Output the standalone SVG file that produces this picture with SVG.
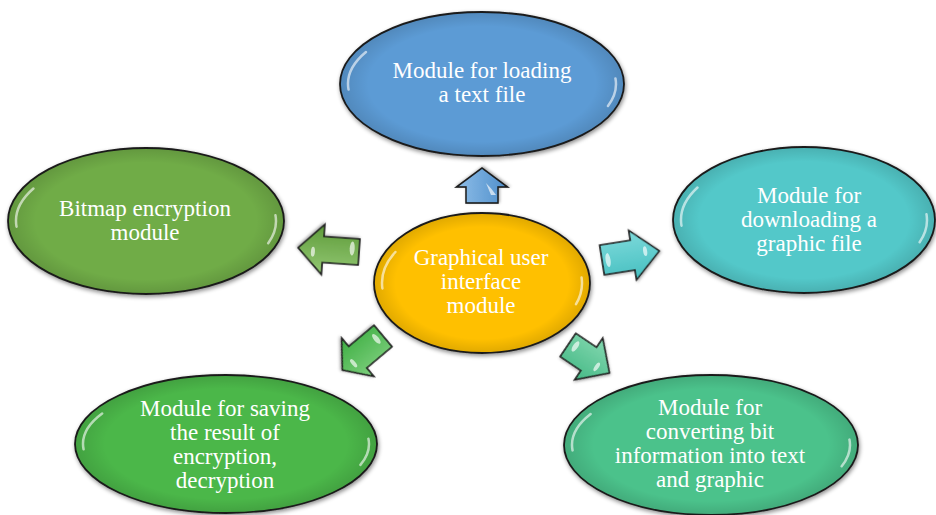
<svg xmlns="http://www.w3.org/2000/svg" xmlns:xlink="http://www.w3.org/1999/xlink" width="936" height="515" viewBox="0 0 936 515">
<defs>
<style>
.node{stroke:#1c1c1c;stroke-width:1.8;filter:url(#sh)}
.shade{fill:url(#edge);stroke:none}
.hl{fill:none;stroke:#ffffff;stroke-width:2.5;stroke-linecap:round;opacity:0.6}
.lbl{font-family:"Liberation Serif","Times New Roman",serif;font-size:23px;fill:#ffffff;text-anchor:middle}
.arr{stroke:#1c1c1c;stroke-width:1.6;stroke-linejoin:miter;filter:url(#sh2)}
.spot{fill:#ffffff;opacity:0.65}
</style>
<filter id="sh" x="-10%" y="-10%" width="120%" height="125%">
<feGaussianBlur in="SourceAlpha" stdDeviation="2.2"/>
<feOffset dx="1" dy="1.5" result="b"/>
<feFlood flood-color="#000" flood-opacity="0.45"/>
<feComposite in2="b" operator="in"/>
<feMerge><feMergeNode/><feMergeNode in="SourceGraphic"/></feMerge>
</filter>
<filter id="sh2" x="-20%" y="-20%" width="140%" height="140%">
<feGaussianBlur in="SourceAlpha" stdDeviation="1.5"/>
<feOffset dx="1" dy="1" result="b"/>
<feFlood flood-color="#000" flood-opacity="0.35"/>
<feComposite in2="b" operator="in"/>
<feMerge><feMergeNode/><feMergeNode in="SourceGraphic"/></feMerge>
</filter>
<radialGradient id="edge" cx="0.5" cy="0.5" r="0.5">
<stop offset="0.8" stop-color="#000" stop-opacity="0"/>
<stop offset="1" stop-color="#000" stop-opacity="0.12"/>
</radialGradient>
<linearGradient id="gUp" x1="0" y1="0" x2="0" y2="1"><stop offset="0" stop-color="#8DBDE8"/><stop offset="1" stop-color="#4F8FCB"/></linearGradient>
<linearGradient id="gL" x1="0" y1="0" x2="0" y2="1"><stop offset="0" stop-color="#93C873"/><stop offset="1" stop-color="#5E9B3A"/></linearGradient>
<linearGradient id="gR" x1="0" y1="0" x2="0" y2="1"><stop offset="0" stop-color="#7EDADB"/><stop offset="1" stop-color="#45BFC0"/></linearGradient>
<linearGradient id="gBL" x1="0" y1="0" x2="0" y2="1"><stop offset="0" stop-color="#7FD07F"/><stop offset="1" stop-color="#3DAE42"/></linearGradient>
<linearGradient id="gBR" x1="0" y1="0" x2="0" y2="1"><stop offset="0" stop-color="#84D8B0"/><stop offset="1" stop-color="#45B986"/></linearGradient>
<path id="hl" class="hl" vector-effect="non-scaling-stroke" d="M-0.866,-0.5 A1,1 0 0 0 -0.996,0.087 M0.996,-0.087 A1,1 0 0 1 0.94,0.342"/>
</defs>
<rect width="936" height="515" fill="#ffffff"/>

<g id="connectors">
<g id="arrow-up" transform="translate(482,203) rotate(-90)">
<path class="arr" fill="url(#gUp)" d="M0,-16 L16,-16 L16,-25.5 L35,0 L16,25.5 L16,16 L0,16 Z"/>
<path class="spot" d="M20,4 L8,9 L8,14 Q14,10 20,4 Z"/>
</g>
<g id="arrow-left" transform="translate(359,252) rotate(184)">
<path class="arr" fill="url(#gL)" d="M0,-13 L36,-13 L36,-25 L61,0 L36,25 L36,13 L0,13 Z"/>
<ellipse class="spot" cx="7" cy="3" rx="2.5" ry="7"/>
<ellipse class="spot" cx="46" cy="-3" rx="2" ry="5"/>
</g>
<g id="arrow-right" transform="translate(602,260) rotate(-9)">
<path class="arr" fill="url(#gR)" d="M0,-15 L31,-15 L31,-25 L58,0 L31,25 L31,15 L0,15 Z"/>
<ellipse class="spot" cx="6" cy="1" rx="2.5" ry="7"/>
<ellipse class="spot" cx="44" cy="-2" rx="2" ry="5"/>
</g>
<g id="arrow-bottom-left" transform="translate(383,336) rotate(140)">
<path class="arr" fill="url(#gBL)" d="M0,-14 L33,-14 L33,-25 L53,0 L33,25 L33,14 L0,14 Z"/>
<ellipse class="spot" cx="7" cy="2" rx="2.5" ry="6"/>
<ellipse class="spot" cx="40" cy="-2" rx="2" ry="5"/>
</g>
<g id="arrow-bottom-right" transform="translate(568,345) rotate(34)">
<path class="arr" fill="url(#gBR)" d="M0,-14 L25,-14 L25,-25 L50,0 L25,25 L25,14 L0,14 Z"/>
<ellipse class="spot" cx="7" cy="-3" rx="2.5" ry="6"/>
<ellipse class="spot" cx="36" cy="2" rx="2" ry="5"/>
</g>
</g>

<g id="node-top">
<ellipse class="node" cx="482" cy="84" rx="142" ry="72" fill="#5B9BD5"/>
<ellipse class="shade" cx="482" cy="84" rx="142" ry="72"/>
<use href="#hl" transform="translate(482,84) scale(134,64)"/>
<text class="lbl" x="482" y="78">Module for loading</text>
<text class="lbl" x="482" y="102">a text file</text>
</g>

<g id="node-right">
<ellipse class="node" cx="804" cy="220" rx="131" ry="73" fill="#52C8C9"/>
<ellipse class="shade" cx="804" cy="220" rx="131" ry="73"/>
<use href="#hl" transform="translate(804,220) scale(123,65)"/>
<text class="lbl" x="809" y="203">Module for</text>
<text class="lbl" x="809" y="227">downloading a</text>
<text class="lbl" x="809" y="251">graphic file</text>
</g>

<g id="node-left">
<ellipse class="node" cx="146" cy="221" rx="138" ry="73" fill="#6FAC46"/>
<ellipse class="shade" cx="146" cy="221" rx="138" ry="73"/>
<use href="#hl" transform="translate(146,221) scale(130,65)"/>
<text class="lbl" x="145" y="216">Bitmap encryption</text>
<text class="lbl" x="145" y="240">module</text>
</g>

<g id="node-center">
<ellipse class="node" cx="482" cy="283" rx="108" ry="70" fill="#FFC000"/>
<ellipse class="shade" cx="482" cy="283" rx="108" ry="70"/>
<use href="#hl" transform="translate(482,283) scale(100,62)"/>
<text class="lbl" x="481" y="265">Graphical user</text>
<text class="lbl" x="481" y="289">interface</text>
<text class="lbl" x="481" y="313">module</text>
</g>

<g id="node-bottom-left">
<ellipse class="node" cx="226" cy="444" rx="151" ry="69" fill="#4CB74A"/>
<ellipse class="shade" cx="226" cy="444" rx="151" ry="69"/>
<use href="#hl" transform="translate(226,444) scale(143,61)"/>
<text class="lbl" x="225" y="416">Module for saving</text>
<text class="lbl" x="225" y="440">the result of</text>
<text class="lbl" x="225" y="464">encryption,</text>
<text class="lbl" x="225" y="488">decryption</text>
</g>

<g id="node-bottom-right">
<ellipse class="node" cx="711" cy="445" rx="147" ry="70" fill="#4CC28B"/>
<ellipse class="shade" cx="711" cy="445" rx="147" ry="70"/>
<use href="#hl" transform="translate(711,445) scale(139,62)"/>
<text class="lbl" x="710" y="415">Module for</text>
<text class="lbl" x="710" y="439">converting bit</text>
<text class="lbl" x="710" y="463">information into text</text>
<text class="lbl" x="710" y="487">and graphic</text>
</g>
</svg>
